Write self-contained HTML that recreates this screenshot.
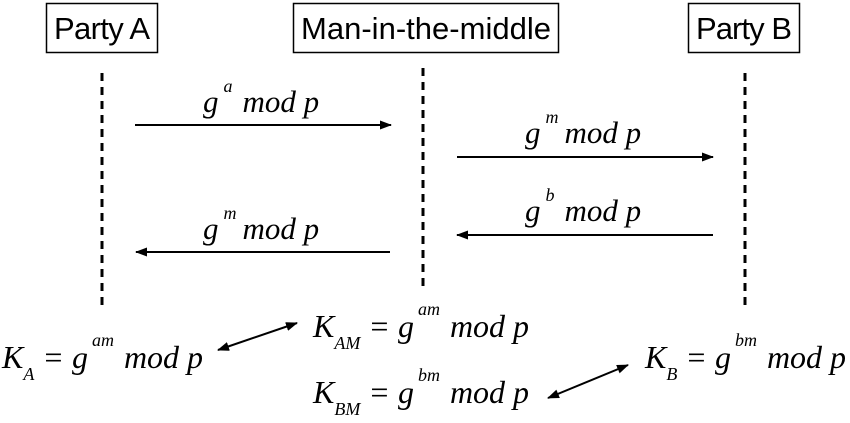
<!DOCTYPE html>
<html><head><meta charset="utf-8"><style>
html,body{margin:0;padding:0;background:#fff;width:850px;height:423px;overflow:hidden}
.s{font-family:"Liberation Sans",sans-serif;font-size:31px;fill:#000}
.m{font-family:"Liberation Serif",serif;font-style:italic;fill:#000;font-size:31px}
.sm{font-size:18px}
</style></head><body>
<svg width="850" height="423" viewBox="0 0 850 423">
<defs><marker id="ah" markerWidth="12" markerHeight="9" refX="11" refY="4.5" orient="auto" markerUnits="userSpaceOnUse"><path d="M0,0 L12,4.5 L0,9 z" fill="#000"/></marker>
<marker id="ahs" markerWidth="12" markerHeight="9" refX="1" refY="4.5" orient="auto" markerUnits="userSpaceOnUse"><path d="M12,0 L0,4.5 L12,9 z" fill="#000"/></marker></defs>
<g><rect x="46.5" y="3.5" width="111" height="49" fill="none" stroke="#000" stroke-width="1.5"/><text class="s" x="102" y="39" text-anchor="middle" textLength="96">Party A</text></g>
<g><rect x="293.5" y="3.5" width="265" height="49" fill="none" stroke="#000" stroke-width="1.5"/><text class="s" x="426" y="39" text-anchor="middle" textLength="250">Man-in-the-middle</text></g>
<g><rect x="688.5" y="3.5" width="111" height="49" fill="none" stroke="#000" stroke-width="1.5"/><text class="s" x="744" y="39" text-anchor="middle" textLength="96">Party B</text></g>
<g stroke="#000" stroke-width="3" stroke-dasharray="8,6">
<line x1="102" y1="73" x2="102" y2="306"/>
<line x1="423" y1="68" x2="423" y2="292"/>
<line x1="745" y1="73" x2="745" y2="306"/>
</g>
<g stroke="#000" stroke-width="2">
<line x1="135" y1="125" x2="391" y2="125" marker-end="url(#ah)"/>
<line x1="457" y1="157" x2="713" y2="157" marker-end="url(#ah)"/>
<line x1="713" y1="235" x2="457" y2="235" marker-end="url(#ah)"/>
<line x1="390" y1="252" x2="136" y2="252" marker-end="url(#ah)"/>
<line x1="218" y1="350" x2="297" y2="323" marker-start="url(#ahs)" marker-end="url(#ah)"/>
<line x1="548" y1="398" x2="628" y2="365" marker-start="url(#ahs)" marker-end="url(#ah)"/>
</g>
<text class="m" x="203" y="112">g<tspan class="sm" dx="5" dy="-20">a</tspan><tspan dx="10" dy="20">mod  p</tspan></text>
<text class="m" x="525" y="143">g<tspan class="sm" dx="5" dy="-20">m</tspan><tspan dx="6" dy="20">mod  p</tspan></text>
<text class="m" x="525" y="221">g<tspan class="sm" dx="5" dy="-20">b</tspan><tspan dx="10" dy="20">mod  p</tspan></text>
<text class="m" x="203" y="239">g<tspan class="sm" dx="5" dy="-20">m</tspan><tspan dx="6" dy="20">mod  p</tspan></text>
<text class="m" x="2" y="368" style="font-size:32px">K<tspan class="sm" dy="12">A</tspan><tspan dy="-12"> = g</tspan><tspan class="sm" dx="4" dy="-22">am</tspan><tspan dx="10" dy="22">mod  p</tspan></text>
<text class="m" x="313" y="337" style="font-size:32px">K<tspan class="sm" dy="12">AM</tspan><tspan dy="-12"> = g</tspan><tspan class="sm" dx="4" dy="-22">am</tspan><tspan dx="10" dy="22">mod  p</tspan></text>
<text class="m" x="313" y="403" style="font-size:32px">K<tspan class="sm" dy="12">BM</tspan><tspan dy="-12"> = g</tspan><tspan class="sm" dx="4" dy="-22">bm</tspan><tspan dx="10" dy="22">mod  p</tspan></text>
<text class="m" x="645" y="368" style="font-size:32px">K<tspan class="sm" dy="12">B</tspan><tspan dy="-12"> = g</tspan><tspan class="sm" dx="4" dy="-22">bm</tspan><tspan dx="10" dy="22">mod  p</tspan></text>
</svg>
</body></html>
